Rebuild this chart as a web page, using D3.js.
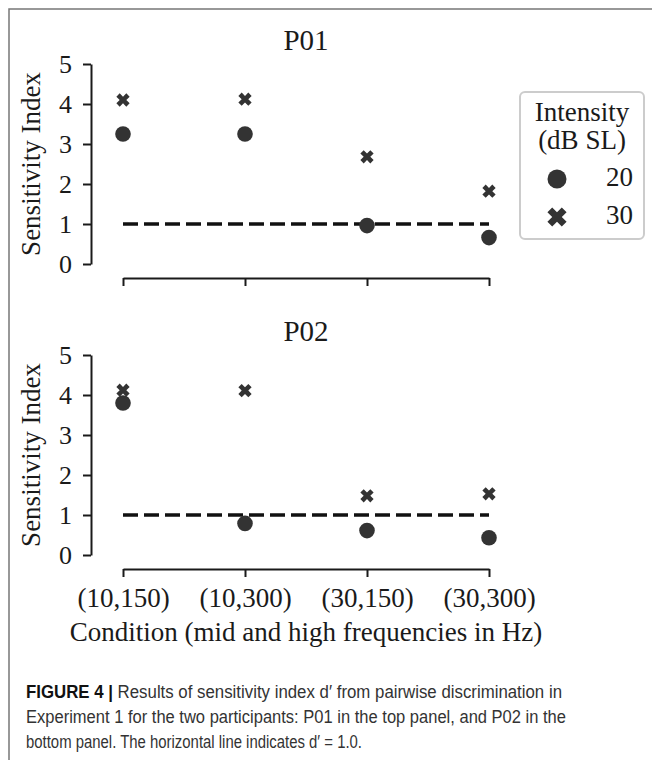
<!DOCTYPE html>
<html>
<head>
<meta charset="utf-8">
<script src="https://cdnjs.cloudflare.com/ajax/libs/d3/7.8.5/d3.min.js"></script>
<style>
  body { margin: 0; background: #fff; }
  svg { display: block; }
</style>
</head>
<body>
<div id="chart"></div>
<script>
// data
const conditions = ["(10,150)", "(10,300)", "(30,150)", "(30,300)"];
const intensities = ["20", "30"];
const p01_20 = [3.25, 3.25, 0.96, 0.66];
const p01_30 = [4.10, 4.12, 2.68, 1.82];
const p02_20 = [3.80, 0.79, 0.61, 0.43];
const p02_30 = [4.12, 4.11, 1.48, 1.53];
const yTicks = [0, 1, 2, 3, 4, 5];
const threshold = 1.0;

const panels = [
    { title: "P01", s20: p01_20, s30: p01_30, top: 64, showLabels: false },
    { title: "P02", s20: p02_20, s30: p02_30, top: 355, showLabels: true }
];

const width = 652, height = 760;
const serif = "'Liberation Serif', 'Times New Roman', serif";
const ink = "#1a1a1a";
const markerColor = "#333";

const svg = d3.select("#chart").append("svg")
    .attr("width", width)
    .attr("height", height);

// outer frame (only top and left edges are visible)
svg.append("path")
    .attr("d", "M9,760 V9 H652")
    .attr("fill", "none")
    .attr("stroke", "#777")
    .attr("stroke-width", 1.5);

const x = d3.scalePoint().domain(conditions).range([123, 489]);
const spineX = 91;
const plotH = 200;

const crossPath = d3.symbol().type(d3.symbolCross);

panels.forEach(p => {
    const y = d3.scaleLinear().domain([0, 5]).range([p.top + plotH, p.top]);
    const g = svg.append("g");

    // title
    g.append("text")
        .attr("x", (x.range()[0] + x.range()[1]) / 2)
        .attr("y", p.top - 14)
        .attr("text-anchor", "middle")
        .attr("font-family", serif)
        .attr("font-size", 29)
        .attr("fill", ink)
        .text(p.title);

    // y axis
    const yAxis = g.append("g")
        .attr("transform", `translate(${spineX},0)`)
        .call(d3.axisLeft(y).tickValues(yTicks).tickFormat(d3.format("d"))
            .tickSize(8).tickSizeOuter(0).tickPadding(11));
    yAxis.select(".domain").attr("stroke", ink).attr("stroke-width", 2);
    yAxis.selectAll(".tick line").attr("stroke", ink).attr("stroke-width", 2);
    yAxis.selectAll(".tick text")
        .attr("font-family", serif)
        .attr("font-size", 26)
        .attr("fill", ink);

    g.append("text")
        .attr("transform", `translate(31,${p.top + plotH / 2}) rotate(-90)`)
        .attr("text-anchor", "middle")
        .attr("dy", "0.35em")
        .attr("font-family", serif)
        .attr("font-size", 27)
        .attr("fill", ink)
        .text("Sensitivity Index");

    // x axis, offset below the plot
    const axisY = p.top + plotH + 14;
    const xAxis = g.append("g")
        .attr("transform", `translate(0,${axisY})`)
        .call(d3.axisBottom(x).tickSize(8).tickSizeOuter(0).tickPadding(11)
            .tickFormat(p.showLabels ? d => d : () => ""));
    xAxis.select(".domain").attr("stroke", ink).attr("stroke-width", 2);
    xAxis.selectAll(".tick line").attr("stroke", ink).attr("stroke-width", 2);
    xAxis.selectAll(".tick text")
        .attr("font-family", serif)
        .attr("font-size", 27)
        .attr("fill", ink);

    // d' = 1 reference line
    g.append("line")
        .attr("x1", x.range()[0])
        .attr("x2", x.range()[1])
        .attr("y1", y(threshold))
        .attr("y2", y(threshold))
        .attr("stroke", "#111")
        .attr("stroke-width", 3.5)
        .attr("stroke-dasharray", "15,6");

    // 20 dB SL - circles
    g.selectAll("circle.s20")
        .data(p.s20)
        .enter().append("circle")
        .attr("class", "s20")
        .attr("cx", (d, i) => x(conditions[i]))
        .attr("cy", d => y(d))
        .attr("r", 7.8)
        .attr("fill", markerColor);

    // 30 dB SL - thick X
    g.selectAll("path.s30")
        .data(p.s30)
        .enter().append("path")
        .attr("class", "s30")
        .attr("d", crossPath.size(110)())
        .attr("transform", (d, i) => `translate(${x(conditions[i])},${y(d)}) rotate(45)`)
        .attr("fill", markerColor);

    if (p.showLabels) {
        g.append("text")
            .attr("x", (x.range()[0] + x.range()[1]) / 2)
            .attr("y", 641)
            .attr("text-anchor", "middle")
            .attr("font-family", serif)
            .attr("font-size", 27)
            .attr("fill", ink)
            .text("Condition (mid and high frequencies in Hz)");
    }
});

// legend
const legend = svg.append("g").attr("transform", "translate(520,92)");
legend.append("rect")
    .attr("width", 124)
    .attr("height", 147)
    .attr("rx", 5)
    .attr("fill", "#fff")
    .attr("stroke", "#ccc")
    .attr("stroke-width", 2);
["Intensity", "(dB SL)"].forEach((t, i) => {
    legend.append("text")
        .attr("x", 62)
        .attr("y", 29 + i * 28)
        .attr("text-anchor", "middle")
        .attr("font-family", serif)
        .attr("font-size", 27)
        .attr("fill", ink)
        .text(t);
});
intensities.forEach((lab, i) => {
    const cy = 87 + i * 38;
    if (i === 0) {
        legend.append("circle").attr("cx", 37).attr("cy", cy).attr("r", 9.5).attr("fill", markerColor);
    } else {
        legend.append("path")
            .attr("d", crossPath.size(230)())
            .attr("transform", `translate(37,${cy}) rotate(45)`)
            .attr("fill", markerColor);
    }
    legend.append("text")
        .attr("x", 113)
        .attr("y", cy + 7)
        .attr("text-anchor", "end")
        .attr("font-family", serif)
        .attr("font-size", 27)
        .attr("fill", ink)
        .text(lab);
});

// caption (condensed sans, fitted to the original line widths)
const capFont = "'Liberation Sans Narrow', 'Arial Narrow', 'Liberation Sans', sans-serif";
const caption = svg.append("g").attr("font-family", capFont).attr("font-size", 17.5).attr("fill", "#333");
const line1 = caption.append("text").attr("x", 26).attr("y", 698)
    .attr("textLength", 536).attr("lengthAdjust", "spacingAndGlyphs");
line1.append("tspan").attr("font-weight", "bold").attr("fill", "#111").text("FIGURE 4 | ");
line1.append("tspan").text("Results of sensitivity index d\u2032 from pairwise discrimination in");
caption.append("text").attr("x", 26).attr("y", 723)
    .attr("textLength", 540).attr("lengthAdjust", "spacingAndGlyphs")
    .text("Experiment 1 for the two participants: P01 in the top panel, and P02 in the");
caption.append("text").attr("x", 26).attr("y", 748)
    .attr("textLength", 336).attr("lengthAdjust", "spacingAndGlyphs")
    .text("bottom panel. The horizontal line indicates d\u2032 = 1.0.");
</script>
</body>
</html>
